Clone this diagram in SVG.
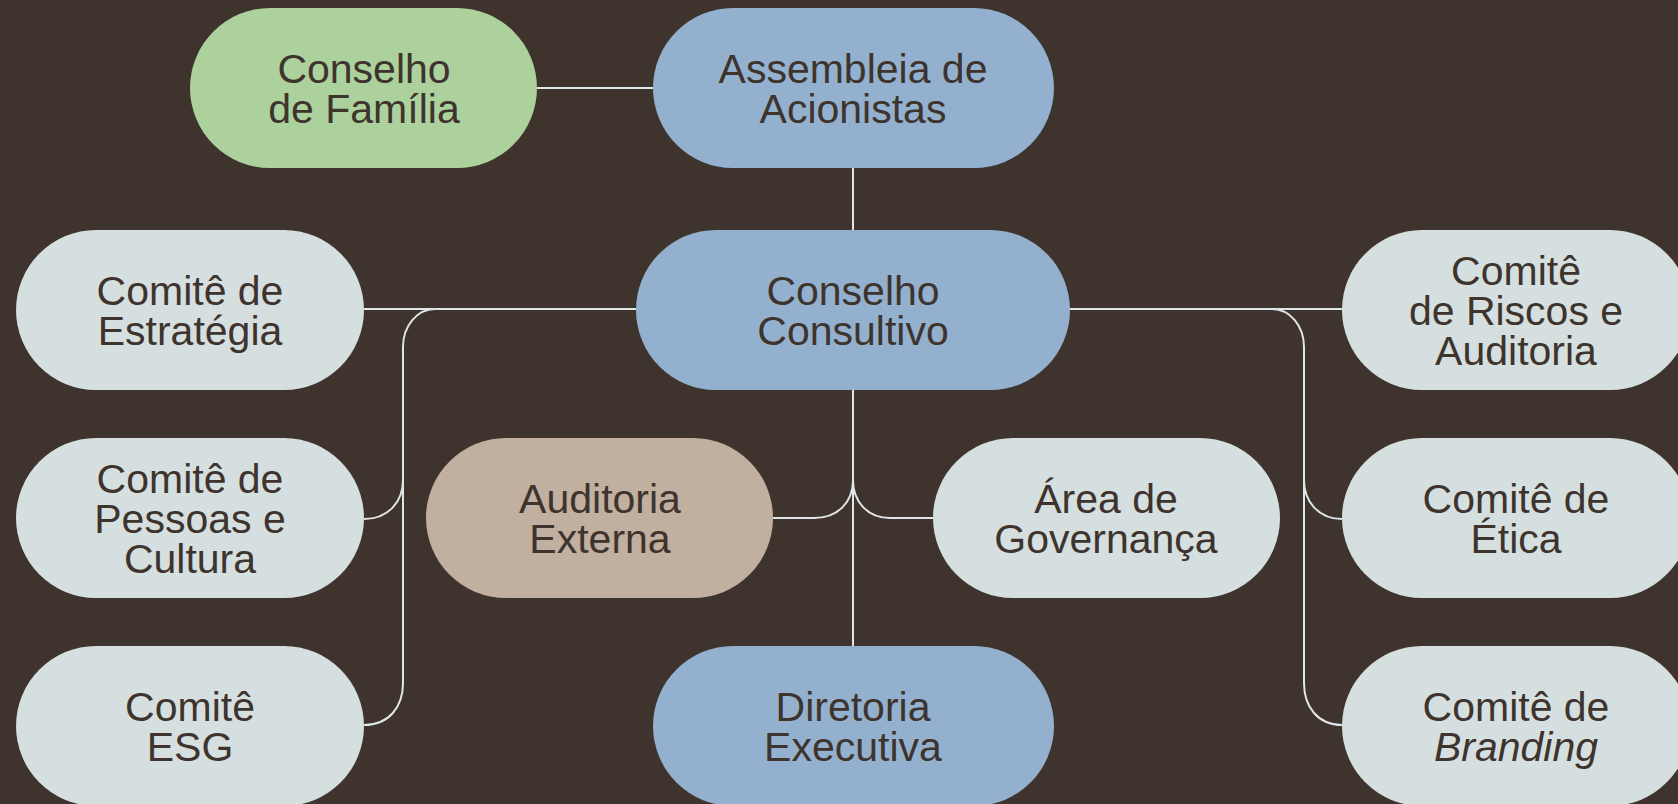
<svg xmlns="http://www.w3.org/2000/svg" width="1678" height="804" viewBox="0 0 1678 804">
<style>
.bg{fill:#3e342d}
.n{stroke:none}
.g{fill:#acd19c}
.b{fill:#93b1cf}
.l{fill:#d5dfe0}
.t{fill:#c1afa0}
text{font-family:"Liberation Sans",Arial,sans-serif;font-size:41px;fill:#3e342d;text-anchor:middle}
.c path,.c line{stroke:#dfe6e7;stroke-width:2;fill:none}
</style>
<rect class="bg" x="0" y="0" width="1678" height="804"/>
<g class="c" id="connectors">
<line x1="537" y1="88" x2="653" y2="88"/>
<line x1="853" y1="168" x2="853" y2="230"/>
<line x1="364" y1="309" x2="636" y2="309"/>
<line x1="1070" y1="309" x2="1342" y2="309"/>
<path d="M435,309 C417,309 403,326 403,347 L403,683"/>
<path d="M403,480 C403,501 389,519 364,519"/>
<path d="M403,683 C403,707 389,725 364,725"/>
<path d="M1272,309 C1290,309 1304,326 1304,347 L1304,683"/>
<path d="M1304,480 C1304,501 1318,519 1342,519"/>
<path d="M1304,683 C1304,707 1318,725 1342,725"/>
<line x1="853" y1="390" x2="853" y2="646"/>
<path d="M853,480 C853,501 839,518 814,518 L773,518"/>
<path d="M853,480 C853,501 867,518 890,518 L933,518"/>
</g>
<g id="conselho-familia"><rect class="n g" x="190" y="8" width="347" height="160" rx="80"/><text x="364" y="83">Conselho<tspan x="364" dy="40">de Família</tspan></text></g>
<g id="assembleia"><rect class="n b" x="653" y="8" width="401" height="160" rx="80"/><text x="853" y="83">Assembleia de<tspan x="853" dy="40">Acionistas</tspan></text></g>
<g id="comite-estrategia"><rect class="n l" x="16" y="230" width="348" height="160" rx="80"/><text x="190" y="305">Comitê de<tspan x="190" dy="40">Estratégia</tspan></text></g>
<g id="conselho-consultivo"><rect class="n b" x="636" y="230" width="434" height="160" rx="80"/><text x="853" y="305">Conselho<tspan x="853" dy="40">Consultivo</tspan></text></g>
<g id="comite-riscos"><rect class="n l" x="1342" y="230" width="348" height="160" rx="80"/><text x="1516" y="285">Comitê<tspan x="1516" dy="40">de Riscos e</tspan><tspan x="1516" dy="40">Auditoria</tspan></text></g>
<g id="comite-pessoas"><rect class="n l" x="16" y="438" width="348" height="160" rx="80"/><text x="190" y="493">Comitê de<tspan x="190" dy="40">Pessoas e</tspan><tspan x="190" dy="40">Cultura</tspan></text></g>
<g id="auditoria-externa"><rect class="n t" x="426" y="438" width="347" height="160" rx="80"/><text x="600" y="513">Auditoria<tspan x="600" dy="40">Externa</tspan></text></g>
<g id="area-governanca"><rect class="n l" x="933" y="438" width="347" height="160" rx="80"/><text x="1106" y="513">Área de<tspan x="1106" dy="40">Governança</tspan></text></g>
<g id="comite-etica"><rect class="n l" x="1342" y="438" width="348" height="160" rx="80"/><text x="1516" y="513">Comitê de<tspan x="1516" dy="40">Ética</tspan></text></g>
<g id="comite-esg"><rect class="n l" x="16" y="646" width="348" height="160" rx="80"/><text x="190" y="721">Comitê<tspan x="190" dy="40">ESG</tspan></text></g>
<g id="diretoria"><rect class="n b" x="653" y="646" width="401" height="160" rx="80"/><text x="853" y="721">Diretoria<tspan x="853" dy="40">Executiva</tspan></text></g>
<g id="comite-branding"><rect class="n l" x="1342" y="646" width="348" height="160" rx="80"/><text x="1516" y="721">Comitê de<tspan x="1516" dy="40" font-style="italic">Branding</tspan></text></g>
</svg>
